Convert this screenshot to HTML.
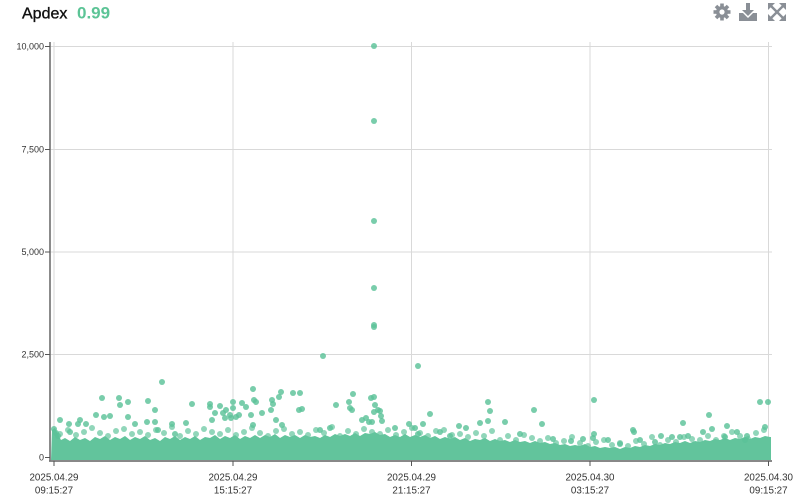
<!DOCTYPE html>
<html><head><meta charset="utf-8"><style>
html,body{margin:0;padding:0;background:#fff;}
svg{display:block;}
text{font-family:"Liberation Sans",Arial,sans-serif;}
</style></head><body>
<svg width="800" height="502" viewBox="0 0 800 502" xmlns="http://www.w3.org/2000/svg">
<rect width="800" height="502" fill="#fff"/>
<!-- title -->
<text x="22" y="18.5" font-size="16" fill="#111" stroke="#111" stroke-width="0.35">Apdex</text>
<text x="77" y="18.5" font-size="17" font-weight="bold" fill="#5cc496">0.99</text>
<!-- icons -->
<g fill="#8a8f96">
  <g transform="translate(722,12)">
    <circle r="6"/>
    <rect x="-1.8" y="-8.5" width="3.6" height="17"/>
    <rect x="-1.8" y="-8.5" width="3.6" height="17" transform="rotate(45)"/>
    <rect x="-1.8" y="-8.5" width="3.6" height="17" transform="rotate(90)"/>
    <rect x="-1.8" y="-8.5" width="3.6" height="17" transform="rotate(135)"/>
    <circle r="2.6" fill="#fff"/>
  </g>
  <g>
    <rect x="746" y="3" width="4" height="8"/>
    <polygon points="742,10 754,10 748,16"/>
    <polygon points="739,13 743,13 748,18 753,13 757,13 757,21 739,21"/>
  </g>
  <g stroke="#8a8f96" stroke-width="2.4">
    <line x1="771" y1="6" x2="783" y2="18"/>
    <line x1="783" y1="6" x2="771" y2="18"/>
  </g>
  <polygon points="768,3 775,3 768,10"/>
  <polygon points="786,3 779,3 786,10"/>
  <polygon points="768,21 775,21 768,14"/>
  <polygon points="786,21 779,21 786,14"/>
</g>
<!-- grid -->
<g stroke="#d9d9d9" stroke-width="1">
  <line x1="50" y1="46.5" x2="772" y2="46.5"/>
  <line x1="50" y1="149.5" x2="772" y2="149.5"/>
  <line x1="50" y1="252" x2="772" y2="252"/>
  <line x1="50" y1="354.5" x2="772" y2="354.5"/>
  <line x1="54" y1="42" x2="54" y2="461"/>
  <line x1="233" y1="42" x2="233" y2="461"/>
  <line x1="411.5" y1="42" x2="411.5" y2="461"/>
  <line x1="590" y1="42" x2="590" y2="461"/>
  <line x1="768.5" y1="42" x2="768.5" y2="461"/>
</g>
<!-- band solid -->
<polygon fill="#62c49c" points="51,460 52,430 55,428 58,434 61,440 65,438 70,441 75,437 80,440 85,438 90,441 95,437 100,439 105,436 110,440 115,437 120,439 125,436 130,440 135,437 140,439 145,436 150,440 155,438 160,441 165,437 170,439 175,436 180,440 185,437 190,439 195,436 200,440 205,437 210,438 215,435 220,439 225,436 230,438 235,435 240,439 245,436 250,438 255,435 260,438 265,435 270,437 275,434 280,438 285,435 290,437 295,435 300,438 305,435 310,437 315,436 320,438 325,435 330,437 335,434 340,436 345,434 350,436 355,433 360,436 365,433 370,434 375,432 380,435 385,434 390,437 395,435 400,437 405,434 410,437 415,435 420,437 425,435 430,438 435,436 440,439 445,437 450,439 455,437 460,440 465,438 470,441 475,439 480,440 485,438 490,441 495,439 500,441 505,440 510,442 515,440 520,442 525,441 530,443 535,441 540,443 545,442 550,444 555,443 560,445 565,444 570,446 575,445 580,446 585,444 590,447 595,446 600,448 605,447 610,448 615,447 620,449 625,447 630,448 635,446 640,447 645,445 650,446 655,444 660,445 665,443 670,444 675,442 680,443 685,441 690,443 695,441 700,442 705,440 710,441 715,439 720,440 725,438 730,440 735,438 740,439 745,437 750,439 755,437 760,438 765,436 770,437 771,437 771,460"/>
<!-- fuzzy edge dots -->
<g fill="#62c49c" fill-opacity="0.7">
<circle cx="60" cy="434" r="3"/><circle cx="68" cy="430" r="3"/><circle cx="76" cy="435" r="3"/><circle cx="84" cy="432" r="3"/><circle cx="92" cy="428" r="3"/><circle cx="100" cy="433" r="3"/><circle cx="108" cy="436" r="3"/><circle cx="116" cy="431" r="3"/><circle cx="124" cy="429" r="3"/><circle cx="132" cy="434" r="3"/><circle cx="140" cy="432" r="3"/><circle cx="148" cy="435" r="3"/><circle cx="156" cy="430" r="3"/><circle cx="164" cy="433" r="3"/><circle cx="172" cy="427" r="3"/><circle cx="180" cy="436" r="3"/><circle cx="188" cy="431" r="3"/><circle cx="196" cy="434" r="3"/><circle cx="204" cy="429" r="3"/><circle cx="212" cy="432" r="3"/><circle cx="220" cy="434" r="3"/><circle cx="228" cy="430" r="3"/><circle cx="236" cy="435" r="3"/><circle cx="244" cy="432" r="3"/><circle cx="252" cy="428" r="3"/><circle cx="260" cy="433" r="3"/><circle cx="268" cy="436" r="3"/><circle cx="276" cy="431" r="3"/><circle cx="284" cy="429" r="3"/><circle cx="292" cy="434" r="3"/><circle cx="300" cy="432" r="3"/><circle cx="308" cy="435" r="3"/><circle cx="316" cy="430" r="3"/><circle cx="324" cy="433" r="3"/><circle cx="332" cy="427" r="3"/><circle cx="340" cy="436" r="3"/><circle cx="348" cy="431" r="3"/><circle cx="356" cy="434" r="3"/><circle cx="364" cy="429" r="3"/><circle cx="372" cy="432" r="3"/><circle cx="380" cy="434" r="3"/><circle cx="388" cy="430" r="3"/><circle cx="396" cy="435" r="3"/><circle cx="404" cy="432" r="3"/><circle cx="412" cy="428" r="3"/><circle cx="420" cy="433" r="3"/><circle cx="428" cy="436" r="3"/><circle cx="436" cy="431" r="3"/><circle cx="444" cy="430" r="3"/><circle cx="452" cy="435" r="3"/><circle cx="460" cy="434" r="3"/><circle cx="468" cy="437" r="3"/><circle cx="476" cy="433" r="3"/><circle cx="484" cy="436" r="3"/><circle cx="492" cy="431" r="3"/><circle cx="500" cy="440" r="3"/><circle cx="508" cy="436" r="3"/><circle cx="516" cy="440" r="3"/><circle cx="524" cy="435" r="3"/><circle cx="532" cy="438" r="3"/><circle cx="540" cy="441" r="3"/><circle cx="548" cy="438" r="3"/><circle cx="556" cy="443" r="3"/><circle cx="564" cy="441" r="3"/><circle cx="572" cy="437" r="3"/><circle cx="580" cy="443" r="3"/><circle cx="588" cy="446" r="3"/><circle cx="596" cy="442" r="3"/><circle cx="604" cy="440" r="3"/><circle cx="612" cy="445" r="3"/><circle cx="620" cy="443" r="3"/><circle cx="628" cy="446" r="3"/><circle cx="636" cy="441" r="3"/><circle cx="644" cy="444" r="3"/><circle cx="652" cy="437" r="3"/><circle cx="660" cy="445" r="3"/><circle cx="668" cy="440" r="3"/><circle cx="676" cy="442" r="3"/><circle cx="684" cy="437" r="3"/><circle cx="692" cy="439" r="3"/><circle cx="700" cy="440" r="3"/><circle cx="708" cy="436" r="3"/><circle cx="716" cy="440" r="3"/><circle cx="724" cy="436" r="3"/><circle cx="732" cy="432" r="3"/><circle cx="740" cy="436" r="3"/><circle cx="748" cy="439" r="3"/><circle cx="756" cy="433" r="3"/><circle cx="764" cy="430" r="3"/>
</g>
<!-- outliers -->
<g fill="#5cc298" fill-opacity="0.82">
<circle cx="374" cy="46" r="3"/><circle cx="374" cy="121" r="3"/><circle cx="374" cy="221" r="3"/><circle cx="374" cy="288" r="3"/><circle cx="374" cy="325" r="3"/><circle cx="374" cy="327" r="3"/>
<circle cx="323" cy="356" r="3"/><circle cx="418" cy="366" r="3"/><circle cx="162" cy="382" r="3"/><circle cx="253" cy="389" r="3"/><circle cx="594" cy="400" r="3"/><circle cx="760" cy="402" r="3"/><circle cx="768" cy="402" r="3"/>
<circle cx="102" cy="398" r="3"/><circle cx="119" cy="398" r="3"/><circle cx="120" cy="405" r="3"/><circle cx="128" cy="402" r="3"/><circle cx="148" cy="401" r="3"/><circle cx="155" cy="410" r="3"/><circle cx="192" cy="404" r="3"/><circle cx="210" cy="404" r="3"/><circle cx="210" cy="407" r="3"/><circle cx="233" cy="408" r="3"/><circle cx="223" cy="413" r="3"/><circle cx="230" cy="415" r="3"/><circle cx="128" cy="417" r="3"/><circle cx="80" cy="420" r="3"/><circle cx="96" cy="415" r="3"/><circle cx="104" cy="417" r="3"/><circle cx="110" cy="416" r="3"/><circle cx="78" cy="424" r="3"/><circle cx="86" cy="424" r="3"/><circle cx="135" cy="424" r="3"/><circle cx="147" cy="422" r="3"/><circle cx="155" cy="422" r="3"/><circle cx="172" cy="424" r="3"/><circle cx="186" cy="423" r="3"/><circle cx="60" cy="420" r="3"/><circle cx="69" cy="424" r="3"/><circle cx="70" cy="432" r="3"/><circle cx="158" cy="430" r="3"/><circle cx="175" cy="434" r="3"/>
<circle cx="254" cy="400" r="3"/><circle cx="256" cy="402" r="3"/><circle cx="233" cy="402" r="3"/><circle cx="272" cy="400" r="3"/><circle cx="273" cy="404" r="3"/><circle cx="271" cy="410" r="3"/><circle cx="279" cy="397" r="3"/><circle cx="281" cy="392" r="3"/><circle cx="293" cy="393" r="3"/><circle cx="299" cy="410" r="3"/><circle cx="242" cy="403" r="3"/><circle cx="246" cy="407" r="3"/><circle cx="220" cy="406" r="3"/><circle cx="226" cy="410" r="3"/><circle cx="212" cy="420" r="3"/><circle cx="225" cy="418" r="3"/><circle cx="231" cy="418" r="3"/><circle cx="236" cy="417" r="3"/><circle cx="253" cy="425" r="3"/><circle cx="276" cy="420" r="3"/><circle cx="282" cy="425" r="3"/><circle cx="215" cy="413" r="3"/><circle cx="239" cy="415" r="3"/><circle cx="251" cy="415" r="3"/><circle cx="262" cy="413" r="3"/>
<circle cx="302" cy="409" r="3"/><circle cx="300" cy="393" r="3"/><circle cx="336" cy="405" r="3"/><circle cx="349" cy="402" r="3"/><circle cx="350" cy="408" r="3"/><circle cx="352" cy="410" r="3"/><circle cx="353" cy="394" r="3"/><circle cx="371" cy="398" r="3"/><circle cx="375" cy="405" r="3"/><circle cx="378" cy="410" r="3"/><circle cx="380" cy="411" r="3"/><circle cx="362" cy="420" r="3"/><circle cx="366" cy="418" r="3"/><circle cx="369" cy="422" r="3"/><circle cx="372" cy="422" r="3"/><circle cx="381" cy="416" r="3"/><circle cx="382" cy="421" r="3"/><circle cx="374" cy="397" r="3"/><circle cx="374" cy="412" r="3"/>
<circle cx="430" cy="414" r="3"/><circle cx="409" cy="424" r="3"/><circle cx="415" cy="428" r="3"/><circle cx="423" cy="424" r="3"/><circle cx="418" cy="434" r="3"/><circle cx="488" cy="402" r="3"/><circle cx="490" cy="411" r="3"/><circle cx="488" cy="421" r="3"/><circle cx="459" cy="426" r="3"/><circle cx="466" cy="428" r="3"/><circle cx="480" cy="423" r="3"/><circle cx="505" cy="422" r="3"/><circle cx="534" cy="410" r="3"/><circle cx="542" cy="424" r="3"/><circle cx="553" cy="439" r="3"/><circle cx="583" cy="439" r="3"/><circle cx="593" cy="438" r="3"/><circle cx="594" cy="434" r="3"/><circle cx="571" cy="441" r="3"/><circle cx="633" cy="430" r="3"/><circle cx="634" cy="432" r="3"/><circle cx="608" cy="440" r="3"/><circle cx="655" cy="442" r="3"/><circle cx="661" cy="436" r="3"/><circle cx="672" cy="437" r="3"/><circle cx="680" cy="437" r="3"/><circle cx="688" cy="436" r="3"/><circle cx="703" cy="432" r="3"/><circle cx="709" cy="415" r="3"/><circle cx="712" cy="429" r="3"/><circle cx="727" cy="426" r="3"/><circle cx="725" cy="437" r="3"/><circle cx="737" cy="432" r="3"/><circle cx="747" cy="436" r="3"/><circle cx="765" cy="427" r="3"/><circle cx="745" cy="440" r="3"/><circle cx="683" cy="423" r="3"/><circle cx="320" cy="430" r="3"/><circle cx="330" cy="428" r="3"/><circle cx="395" cy="428" r="3"/><circle cx="440" cy="432" r="3"/><circle cx="450" cy="436" r="3"/><circle cx="520" cy="434" r="3"/><circle cx="620" cy="444" r="3"/><circle cx="640" cy="440" r="3"/>
<circle cx="54" cy="429" r="3"/><circle cx="56" cy="433" r="3"/><circle cx="58" cy="436" r="3"/>
</g>
<!-- axes -->
<g stroke="#777" stroke-width="1.7" fill="none">
  <line x1="50" y1="42" x2="50" y2="461"/>
  <line x1="49" y1="461" x2="772" y2="461"/>
</g>
<g stroke="#555" stroke-width="1">
  <line x1="45" y1="46.5" x2="50" y2="46.5"/>
  <line x1="45" y1="149.5" x2="50" y2="149.5"/>
  <line x1="45" y1="252" x2="50" y2="252"/>
  <line x1="45" y1="354.5" x2="50" y2="354.5"/>
  <line x1="45" y1="457.5" x2="50" y2="457.5"/>
  <line x1="54" y1="461" x2="54" y2="466"/>
  <line x1="233" y1="461" x2="233" y2="466"/>
  <line x1="411.5" y1="461" x2="411.5" y2="466"/>
  <line x1="590" y1="461" x2="590" y2="466"/>
  <line x1="768.5" y1="461" x2="768.5" y2="466"/>
</g>
<g font-size="9" fill="#333" text-anchor="end">
  <text x="44" y="49.5">10,000</text>
  <text x="44" y="152.5">7,500</text>
  <text x="44" y="255">5,000</text>
  <text x="44" y="357.5">2,500</text>
  <text x="44" y="460.5">0</text>
</g>
<g font-size="9.8" fill="#333" text-anchor="middle">
  <text x="54" y="480.5">2025.04.29</text><text x="54" y="493.5">09:15:27</text>
  <text x="233" y="480.5">2025.04.29</text><text x="233" y="493.5">15:15:27</text>
  <text x="411.5" y="480.5">2025.04.29</text><text x="411.5" y="493.5">21:15:27</text>
  <text x="590" y="480.5">2025.04.30</text><text x="590" y="493.5">03:15:27</text>
  <text x="768.5" y="480.5">2025.04.30</text><text x="768.5" y="493.5">09:15:27</text>
</g>
</svg>
</body></html>
